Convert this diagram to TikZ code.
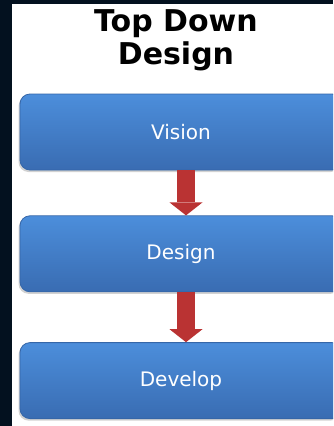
\documentclass[tikz,border=0pt]{standalone}
\usepackage{fontspec}
\setmainfont{DejaVu Sans}
\usetikzlibrary{positioning,shadows,arrows.meta}

\definecolor{slidebg}{HTML}{03111F}
\definecolor{boxtop}{HTML}{4C8EDB}
\definecolor{boxbottom}{HTML}{396CB2}
\definecolor{boxline}{HTML}{3566A8}
\definecolor{arrowred}{HTML}{BA3333}

\tikzstyle{stage}=[draw=boxline, line width=0.8pt, rounded corners=10pt, top color=boxtop, bottom color=boxbottom, minimum width=322pt, minimum height=76pt, text=white, font=\fontsize{20}{23}\selectfont, drop shadow={shadow xshift=-1.5pt, shadow yshift=-2pt, opacity=0.35}]
\tikzstyle{flow}=[draw=arrowred, line width=18pt, -{Triangle[width=33pt,length=13pt,line width=0pt]}]

\begin{document}
\begin{tikzpicture}[x=1pt,y=1pt]

\useasboundingbox (0,0) rectangle (333,-426);
\clip (0,0) rectangle (333,-426);
\fill[slidebg] (0,0) rectangle (333,-426);
\fill[white] (12,-4) rectangle (333,-426);

\node (title) [align=center, font=\bfseries\fontsize{30}{33}\selectfont] at (176,-40.5) {Top Down\\Design};

\node (vision) [stage] at (181,-132) {Vision};
\node (design) [stage, below=45pt of vision] {Design};
\node (develop) [stage, below=50pt of design] {Develop};

% arrows sit a little right of the box centres
\draw [flow] ([xshift=5pt]vision.south) -- ([xshift=5pt]design.north);
\draw [flow] ([xshift=5pt]design.south) -- ([xshift=5pt]develop.north);

\end{tikzpicture}
\end{document}
